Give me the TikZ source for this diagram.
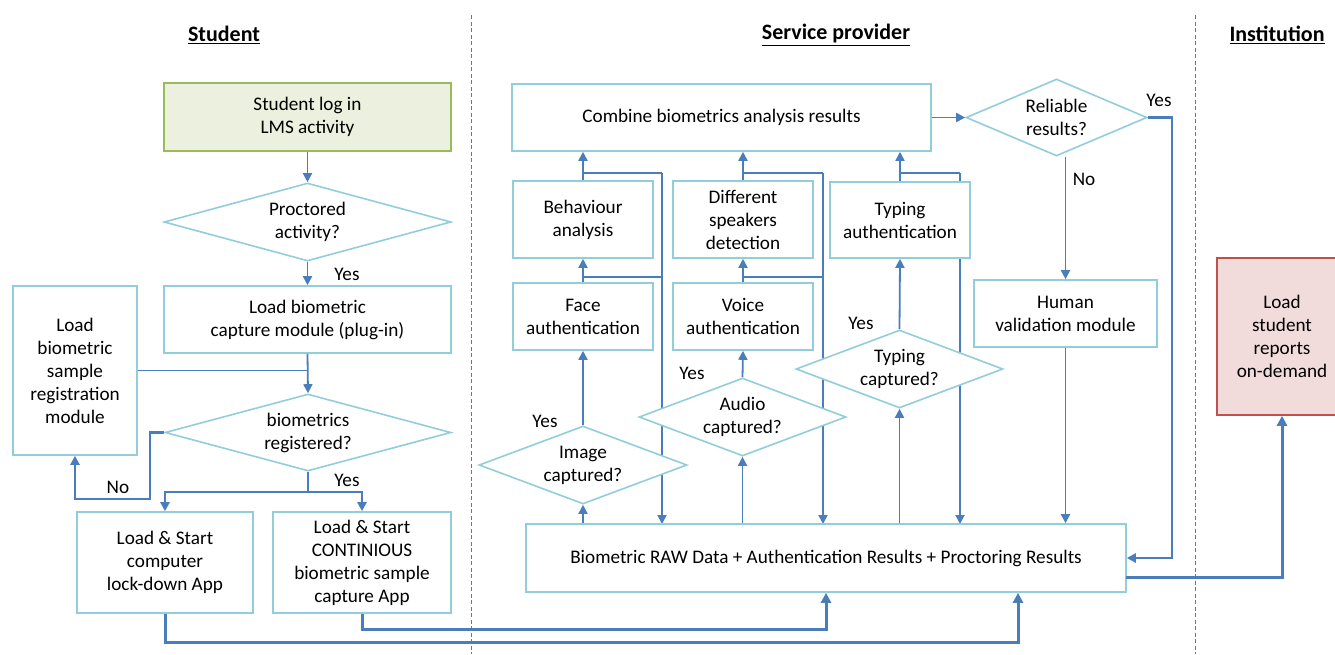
\documentclass[tikz,border=0pt]{standalone}
\usepackage{fontspec}
\setmainfont{Carlito}
\usetikzlibrary{shapes.geometric,arrows.meta,calc}
\definecolor{boxb}{RGB}{146,205,220}
\definecolor{lineb}{RGB}{74,126,187}
\definecolor{gfill}{RGB}{235,241,222}
\definecolor{gbord}{RGB}{155,187,89}
\definecolor{rfill}{RGB}{242,220,219}
\definecolor{rbord}{RGB}{192,80,77}
\tikzset{
  every node/.style={font=\fontsize{19.2}{23}\selectfont, text=black},
  procbox/.style={draw=boxb, line width=1.6pt, fill=white, rectangle, align=center, inner sep=0pt},
  decbox/.style={draw=boxb, line width=1.6pt, fill=white, diamond, aspect=3, align=center, inner sep=0pt},
  conn/.style={draw=lineb, line width=1.8pt, -{Triangle[length=9pt,width=9pt]}},
  plain/.style={draw=lineb, line width=1.8pt},
  midconn/.style={draw=lineb, line width=2.3pt, -{Triangle[length=9pt,width=9pt]}},
  thickconn/.style={draw=lineb, line width=3pt, -{Triangle[length=10pt,width=10pt]}},
  lbl/.style={inner sep=0pt},
  hdr/.style={font=\fontsize{22}{24}\selectfont\bfseries, inner sep=0pt},
  sep/.style={draw=lineb, line width=1.3pt, dash pattern=on 4pt off 2.5pt}
}
\begin{document}
\begin{tikzpicture}[x=1pt,y=-1pt]
\useasboundingbox (0,0) rectangle (1335,654);
\clip (0,0) rectangle (1335,654);
\fill[white] (0,0) rectangle (1335,654);

% headers
\node[hdr] (hstu) at (224,35) {\underline{Student}};
\node[hdr] (hsp) at (836,35) {\underline{Service provider}};
\node[hdr] (hins) at (1277,35) {\underline{Institution}};

% separators
\coordinate (s1t) at (471.5,15);
\coordinate (s1b) at (471.5,654);
\coordinate (s2t) at (1195.5,15);
\coordinate (s2b) at (1195.5,654);
\draw[sep] (s1t) -- (s1b);
\draw[sep] (s2t) -- (s2b);

% coordinates for connector routing
\coordinate (v1) at (662,173);
\coordinate (v1b) at (662,277);
\coordinate (v2) at (823,173);
\coordinate (v2b) at (823,277);
\coordinate (v3) at (960,173);
\coordinate (nob) at (150,499);
\coordinate (ysplit) at (308,492);
\coordinate (b1) at (1018,642);
\coordinate (b2) at (826,629);
\coordinate (ycorner) at (1172,558);
\coordinate (r1) at (1126,577);

% background connector lines (behind boxes)
\draw[conn] (v1) -- (v1 |- 0,524);
\draw[conn] (v2) -- (v2 |- 0,524);
\draw[conn] (v3) -- (v3 |- 0,524);

% student nodes
\node[procbox, draw=gbord, fill=gfill, minimum width=287pt, minimum height=68pt] (log) at (307.5,117) {Student log in\\LMS activity};
\node[decbox, minimum width=287pt, minimum height=78pt] (proc) at (307.5,222) {Proctored\\activity?};
\node[procbox, minimum width=287pt, minimum height=67pt] (cap) at (307.5,319.5) {Load biometric\\capture module (plug-in)};
\node[procbox, minimum width=124pt, minimum height=169pt] (reg) at (75,370.5) {Load\\biometric\\sample\\registration\\module};
\node[decbox, minimum width=286pt, minimum height=77pt] (bioreg) at (308,432.5) {biometrics\\registered?};
\node[procbox, minimum width=176pt, minimum height=101pt] (lock) at (165,562.5) {Load \& Start\\computer\\lock-down App};
\node[procbox, minimum width=178pt, minimum height=101pt] (cont) at (362,562.5) {Load \& Start\\CONTINIOUS\\biometric sample\\capture App};

% service provider nodes
\node[procbox, minimum width=600pt, minimum height=68pt] (raw) at (826,558) {Biometric RAW Data + Authentication Results + Proctoring Results};
\node[procbox, minimum width=419pt, minimum height=67pt] (comb) at (721.5,117.5) {Combine biometrics analysis results};
\node[procbox, minimum width=140pt, minimum height=77pt] (beh) at (583,219.5) {Behaviour\\analysis};
\node[procbox, minimum width=140pt, minimum height=77pt] (spk) at (743,219.5) {Different\\speakers\\detection};
\node[procbox, minimum width=140pt, minimum height=76pt] (typa) at (900,220) {Typing\\authentication};
\node[procbox, minimum width=140pt, minimum height=67pt] (face) at (583,316.5) {Face\\authentication};
\node[procbox, minimum width=140pt, minimum height=67pt] (voice) at (743,316.5) {Voice\\authentication};
\node[decbox, minimum width=208pt, minimum height=78pt] (imgc) at (583,465) {Image\\captured?};
\node[decbox, minimum width=207pt, minimum height=78pt] (audc) at (742.5,417) {Audio\\captured?};
\node[decbox, minimum width=207pt, minimum height=78pt] (typc) at (899.5,369) {Typing\\captured?};
\node[decbox, minimum width=181pt, minimum height=77pt] (rel) at (1056.5,117.5) {Reliable\\results?};
\node[procbox, minimum width=183pt, minimum height=67pt] (hum) at (1065.5,313.5) {Human\\validation module};

% institution
\node[procbox, draw=rbord, fill=rfill, minimum width=130pt, minimum height=157pt] (rep) at (1282,336.5) {Load\\student\\reports\\on-demand};

% student connectors
\draw[conn] (log.south) -- (proc.north);
\draw[conn] (proc.south) -- (cap.north);
\draw[conn] (cap.south) -- (bioreg.north);
\draw[plain] (reg.east) -- (reg.east -| cap.south);
\draw[midconn] (bioreg.west) -| (nob) -| (reg.south);
\draw[plain, line width=2.3pt] (bioreg.south) -- (ysplit);
\draw[midconn] (ysplit) -| (lock.north);
\draw[midconn] (ysplit) -| (cont.north);
\draw[thickconn] (lock.south) |- (b1) -- (b1 |- raw.south);
\draw[thickconn] (cont.south) |- (b2) -- (raw.south);

% service provider connectors
\draw[conn] (raw.north -| imgc.south) -- (imgc.south);
\draw[conn] (imgc.north) -- (face.south);
\draw[conn] (face.north) -- (beh.south);
\draw[conn] (beh.north) -- (beh.north |- comb.south);
\draw[plain] (face.north |- v1b) -- (v1b);
\draw[plain] (beh.north |- v1) -- (v1);

\draw[conn] (raw.north -| audc.south) -- (audc.south);
\draw[conn] (audc.north) -- (voice.south);
\draw[conn] (voice.north) -- (spk.south);
\draw[conn] (spk.north) -- (spk.north |- comb.south);
\draw[plain] (voice.north |- v2b) -- (v2b);
\draw[plain] (spk.north |- v2) -- (v2);

\draw[conn] (raw.north -| typc.south) -- (typc.south);
\draw[conn] (typc.north) -- (typa.south);
\draw[conn] (typa.north) -- (typa.north |- comb.south);
\draw[plain] (typa.north |- v3) -- (v3);

\draw[conn] (comb.east) -- (rel.west);
\draw[conn] (hum.north |- rel.south) -- (hum.north);
\draw[conn] (hum.south) -- (hum.south |- raw.north);
\draw[midconn] (rel.east) -| (ycorner) -- (raw.east);
\draw[thickconn] (r1) -| (rep.south);

% labels
\node[lbl] (lyes1) at (347,274) {Yes};
\node[lbl] (lno1) at (118,487) {No};
\node[lbl] (lyes2) at (347,480) {Yes};
\node[lbl] (lyes3) at (545,421) {Yes};
\node[lbl] (lyes4) at (692,373) {Yes};
\node[lbl] (lyes5) at (861,323) {Yes};
\node[lbl] (lno2) at (1084,179) {No};
\node[lbl] (lyes6) at (1159,100) {Yes};
\end{tikzpicture}
\end{document}
